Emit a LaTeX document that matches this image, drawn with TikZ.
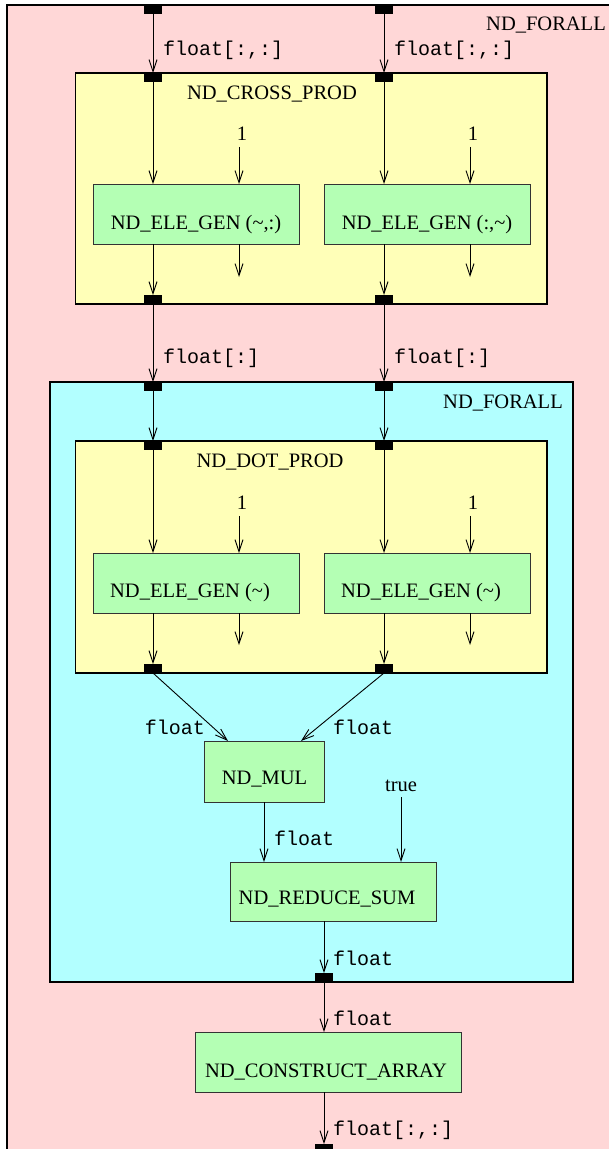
\documentclass[tikz,border=0pt]{standalone}
\usepackage{fontspec}
\setmainfont{Liberation Serif}
\setmonofont{Liberation Mono}
\usetikzlibrary{arrows.meta}

\definecolor{loopbg}{HTML}{FFD7D7}
\definecolor{innerbg}{HTML}{B2FFFF}
\definecolor{prodbg}{HTML}{FFFFB8}
\definecolor{opbg}{HTML}{B4FFB4}

\tikzset{
  frame/.style={draw=black, line width=1.2pt, inner sep=0pt, outer sep=0pt},
  opbox/.style={draw=black!80, fill=opbg, line width=1pt, inner sep=0pt, outer sep=0pt},
  port/.style={fill=black, draw=none, minimum width=18pt, minimum height=9pt, inner sep=0pt, outer sep=0pt},
  arr/.style={draw=black, line width=0.9pt, -{Straight Barb[length=12pt,width=8pt,line width=0.9pt]}},
  wire/.style={draw=black, line width=0.9pt},
  nm/.style={inner sep=0pt, font=\fontsize{20.5}{24}\selectfont},
  ty/.style={inner sep=0pt, anchor=west, font=\fontsize{20}{24}\selectfont\ttfamily},
}

\begin{document}
\begin{tikzpicture}[x=1pt, y=-1pt]
\useasboundingbox (0,0) rectangle (609,1149);
\clip (0,0) rectangle (609,1149);

% outer loop region
\filldraw[fill=loopbg, draw=black, line width=1.2pt] (7,5) rectangle (640,1180);
\node[nm, anchor=base east] (outerlbl) at (606,30) {ND\_FORALL};

% cross product block
\node[frame, fill=prodbg, minimum width=471.3pt, minimum height=231pt] (cross) at (311.35,188.5) {};
\node[nm, anchor=base] (crosslbl) at (272,99) {ND\_CROSS\_PROD};

% inner loop region
\node[frame, fill=innerbg, minimum width=523pt, minimum height=600pt] (inner) at (311.5,682) {};
\node[nm, anchor=base east] (innerlbl) at (563,408) {ND\_FORALL};

% dot product block
\node[frame, fill=prodbg, minimum width=471.3pt, minimum height=232pt] (dot) at (311.35,557) {};
\node[nm, anchor=base] (dotlbl) at (270,467) {ND\_DOT\_PROD};

% ports on the outer loop
\node[port] (pa0) at (153,9.5) {};
\node[port] (pb0) at (384,9.5) {};
% ports on the cross product block
\node[port] (pa1) at (153,77.5) {};
\node[port] (pb1) at (384,77.5) {};
\node[port] (pa2) at (153,299.5) {};
\node[port] (pb2) at (384,299.5) {};
% ports on the inner loop
\node[port] (pa3) at (153,386.5) {};
\node[port] (pb3) at (384,386.5) {};
% ports on the dot product block
\node[port] (pa4) at (153,445.5) {};
\node[port] (pb4) at (384,445.5) {};
\node[port] (pa5) at (153,668.5) {};
\node[port] (pb5) at (384,668.5) {};
% result ports
\node[port] (pr1) at (324,977.5) {};
\node[port] (pr2) at (324,1148.5) {};

% element generators of the cross product
\node[opbox, minimum width=206pt, minimum height=60pt] (ga) at (196,214) {};
\node[nm, anchor=base] at (196,229) {ND\_ELE\_GEN (\textasciitilde,:)};
\node[opbox, minimum width=206pt, minimum height=60pt] (gb) at (427,214) {};
\node[nm, anchor=base] at (427,229) {ND\_ELE\_GEN (:,\textasciitilde)};

% element generators of the dot product
\node[opbox, minimum width=206pt, minimum height=60pt] (gc) at (196,583) {};
\node[nm, anchor=base] at (190,597) {ND\_ELE\_GEN (\textasciitilde)};
\node[opbox, minimum width=206pt, minimum height=60pt] (gd) at (427,583) {};
\node[nm, anchor=base] at (421,597) {ND\_ELE\_GEN (\textasciitilde)};

% scalar operations
\node[opbox, minimum width=120pt, minimum height=61pt] (mul) at (264,771.5) {};
\node[nm, anchor=base] at (264.5,784) {ND\_MUL};
\node[opbox, minimum width=206pt, minimum height=59pt] (red) at (333,891.5) {};
\node[nm, anchor=base] at (327,904) {ND\_REDUCE\_SUM};
\node[opbox, minimum width=266pt, minimum height=60pt] (cons) at (328,1062) {};
\node[nm, anchor=base] at (326,1077) {ND\_CONSTRUCT\_ARRAY};

% constant inputs
\node[nm] (c1) at (242,134) {1};
\node[nm] (c2) at (473,134) {1};
\node[nm] (c3) at (242,503) {1};
\node[nm] (c4) at (473,503) {1};
\node[nm] (ctrue) at (401,786) {true};

% free ends of unused outputs
\coordinate (oa) at (239,277);
\coordinate (ob) at (470,277);
\coordinate (oc) at (239,645);
\coordinate (od) at (470,645);

% cross product wiring
\draw[arr] (pa0.south) -- (pa1.north);
\draw[arr] (pb0.south) -- (pb1.north);
\draw[arr] (pa1.south) -- (pa1.south |- ga.north);
\draw[arr] (pb1.south) -- (pb1.south |- gb.north);
\draw[arr] (oa |- c1.south) ++(0,6) -- (oa |- ga.north);
\draw[arr] (ob |- c2.south) ++(0,6) -- (ob |- gb.north);
\draw[arr] (pa2.north |- ga.south) -- (pa2.north);
\draw[arr] (pb2.north |- gb.south) -- (pb2.north);
\draw[arr] (oa |- ga.south) -- (oa);
\draw[arr] (ob |- gb.south) -- (ob);
\node[ty] at (163,50) {float[:,:]};
\node[ty] at (394,50) {float[:,:]};

% into the inner loop
\draw[arr] (pa2.south) -- (pa3.north);
\draw[arr] (pb2.south) -- (pb3.north);
\node[ty] at (163,358) {float[:]};
\node[ty] at (394,358) {float[:]};

% dot product wiring
\draw[arr] (pa3.south) -- (pa4.north);
\draw[arr] (pb3.south) -- (pb4.north);
\draw[arr] (pa4.south) -- (pa4.south |- gc.north);
\draw[arr] (pb4.south) -- (pb4.south |- gd.north);
\draw[arr] (oc |- c3.south) ++(0,6) -- (oc |- gc.north);
\draw[arr] (od |- c4.south) ++(0,6) -- (od |- gd.north);
\draw[arr] (pa5.north |- gc.south) -- (pa5.north);
\draw[arr] (pb5.north |- gd.south) -- (pb5.north);
\draw[arr] (oc |- gc.south) -- (oc);
\draw[arr] (od |- gd.south) -- (od);

% multiply and reduce
\draw[arr] (pa5.south) -- ([xshift=-36pt]mul.north);
\draw[arr] (pb5.south) -- ([xshift=37pt]mul.north);
\node[ty, anchor=east] at (205,727) {float};
\node[ty] at (333,727) {float};
\draw[arr] (mul.south) -- (mul.south |- red.north);
\node[ty] at (274,838) {float};
\draw[arr] (ctrue.south) ++(0,5) -- (ctrue.south |- red.north);
\draw[arr] (pr1.north |- red.south) -- (pr1.north);
\node[ty] at (333,958) {float};

% result assembly
\draw[arr] (pr1.south) -- (pr1.south |- cons.north);
\node[ty] at (333,1018) {float};
\draw[arr] (pr2.north |- cons.south) -- (pr2.north);
\node[ty] at (333,1130) {float[:,:]};
\end{tikzpicture}
\end{document}
